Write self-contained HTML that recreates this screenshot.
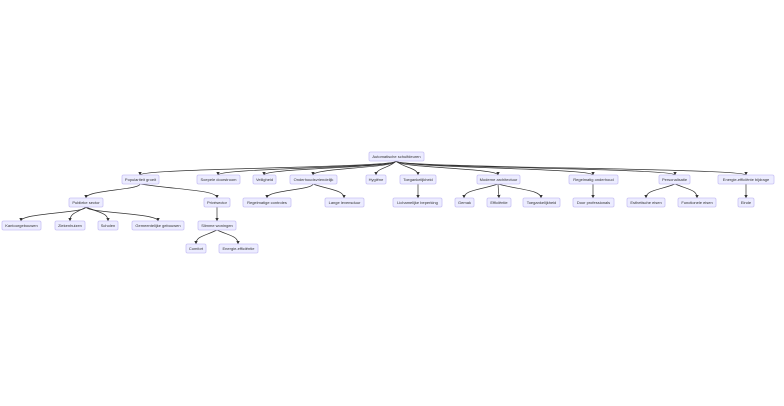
<!DOCTYPE html>
<html><head><meta charset="utf-8"><style>
html,body{margin:0;padding:0;background:#fff;width:784px;height:406px;overflow:hidden}
text{font-family:"Liberation Sans",sans-serif;font-size:4px;fill:#333;text-anchor:middle;dominant-baseline:central}
rect{fill:#ECECFF;stroke:#c9c2f5;stroke-width:0.8}
path{fill:none;stroke:#333;stroke-width:0.7}
</style></head><body>
<svg width="784" height="406" viewBox="0 0 784 406">
<defs><marker id="a" viewBox="0 0 10 10" refX="9" refY="5" markerWidth="5" markerHeight="5" orient="auto"><path d="M0,0L10,5L0,10z" style="fill:#333;stroke:none"/></marker></defs>
<g marker-end="url(#a)">
<path d="M396,161 C396,168 140,168 140,175"/>
<path d="M396,161 C396,168 218,168 218,175"/>
<path d="M396,161 C396,168 264,168 264,175"/>
<path d="M396,161 C396,168 313,168 313,175"/>
<path d="M396,161 C390,168 376,168 376,175"/>
<path d="M396,161 C404,168 418,168 418,175"/>
<path d="M396,161 C396,168 498,168 498,175"/>
<path d="M396,161 C396,168 593,168 593,175"/>
<path d="M396,161 C396,168 675,168 675,175"/>
<path d="M396,161 C396,168 746,168 746,175"/>
<path d="M140,184 C140,190 86,190 86,198"/>
<path d="M140,184 C180,190 217,190 217,198"/>
<path d="M313,184 C313,190 267,190 267,198"/>
<path d="M313,184 C330,190 344,190 344,198"/>
<path d="M418,184 L418,198"/>
<path d="M498,184 C480,190 464,190 464,198"/>
<path d="M498,184 L499,198"/>
<path d="M498,184 C520,190 541,190 541,198"/>
<path d="M593,184 L593,198"/>
<path d="M675,184 C660,190 646,190 646,198"/>
<path d="M675,184 C690,190 697,190 697,198"/>
<path d="M746,184 L746,198"/>
<path d="M86,207 C86,213 21,213 21,221"/>
<path d="M86,207 C76,213 70,213 70,221"/>
<path d="M86,207 C100,213 108,213 108,221"/>
<path d="M86,207 C86,213 158,213 158,221"/>
<path d="M217,207 L217,221"/>
<path d="M217,230 C205,236 196,236 196,244"/>
<path d="M217,230 C230,236 238,236 238,244"/>
</g>
<rect x="369" y="152" width="55" height="9" rx="1.5"/><text x="396.5" y="156.5">Automatische schuifdeuren</text>
<rect x="122" y="175" width="37" height="9" rx="1.5"/><text x="140.5" y="179.5">Populariteit groeit</text>
<rect x="197" y="175" width="43" height="9" rx="1.5"/><text x="218.5" y="179.5">Soepele doorstroom</text>
<rect x="253" y="175" width="23" height="9" rx="1.5"/><text x="264.5" y="179.5">Veiligheid</text>
<rect x="290" y="175" width="47" height="9" rx="1.5"/><text x="313.5" y="179.5">Onderhoudsvriendelijk</text>
<rect x="366" y="175" width="20" height="9" rx="1.5"/><text x="376" y="179.5">Hygiëne</text>
<rect x="400" y="175" width="36" height="9" rx="1.5"/><text x="418" y="179.5">Toegankelijkheid</text>
<rect x="477" y="175" width="43" height="9" rx="1.5"/><text x="498.5" y="179.5">Moderne architectuur</text>
<rect x="569" y="175" width="49" height="9" rx="1.5"/><text x="593.5" y="179.5">Regelmatig onderhoud</text>
<rect x="659" y="175" width="31" height="9" rx="1.5"/><text x="674.5" y="179.5">Personalisatie</text>
<rect x="718" y="175" width="56" height="9" rx="1.5"/><text x="746" y="179.5">Energie-efficiënte bijdrage</text>
<rect x="69" y="198" width="34" height="9" rx="1.5"/><text x="86" y="202.5">Publieke sector</text>
<rect x="204" y="198" width="26" height="9" rx="1.5"/><text x="217" y="202.5">Privésector</text>
<rect x="243" y="198" width="48" height="9" rx="1.5"/><text x="267" y="202.5">Regelmatige controles</text>
<rect x="325" y="198" width="39" height="9" rx="1.5"/><text x="344.5" y="202.5">Lange levensduur</text>
<rect x="393" y="198" width="49" height="9" rx="1.5"/><text x="417.5" y="202.5">Lichamelijke beperking</text>
<rect x="455" y="198" width="19" height="9" rx="1.5"/><text x="464.5" y="202.5">Gemak</text>
<rect x="487" y="198" width="24" height="9" rx="1.5"/><text x="499" y="202.5">Efficiëntie</text>
<rect x="523" y="198" width="37" height="9" rx="1.5"/><text x="541.5" y="202.5">Toegankelijkheid</text>
<rect x="573" y="198" width="41" height="9" rx="1.5"/><text x="593.5" y="202.5">Door professionals</text>
<rect x="627" y="198" width="38" height="9" rx="1.5"/><text x="646" y="202.5">Esthetische eisen</text>
<rect x="678" y="198" width="38" height="9" rx="1.5"/><text x="697" y="202.5">Functionele eisen</text>
<rect x="738" y="198" width="16" height="9" rx="1.5"/><text x="746" y="202.5">Einde</text>
<rect x="2" y="221" width="39" height="9" rx="1.5"/><text x="21.5" y="225.5">Kantoorgebouwen</text>
<rect x="55" y="221" width="30" height="9" rx="1.5"/><text x="70" y="225.5">Ziekenhuizen</text>
<rect x="98" y="221" width="20" height="9" rx="1.5"/><text x="108" y="225.5">Scholen</text>
<rect x="132" y="221" width="52" height="9" rx="1.5"/><text x="158" y="225.5">Gemeentelijke gebouwen</text>
<rect x="198" y="221" width="38" height="9" rx="1.5"/><text x="217" y="225.5">Slimme woningen</text>
<rect x="186" y="244" width="20" height="9" rx="1.5"/><text x="196" y="248.5">Comfort</text>
<rect x="219" y="244" width="39" height="9" rx="1.5"/><text x="238.5" y="248.5">Energie-efficiëntie</text>
</svg>
</body></html>
